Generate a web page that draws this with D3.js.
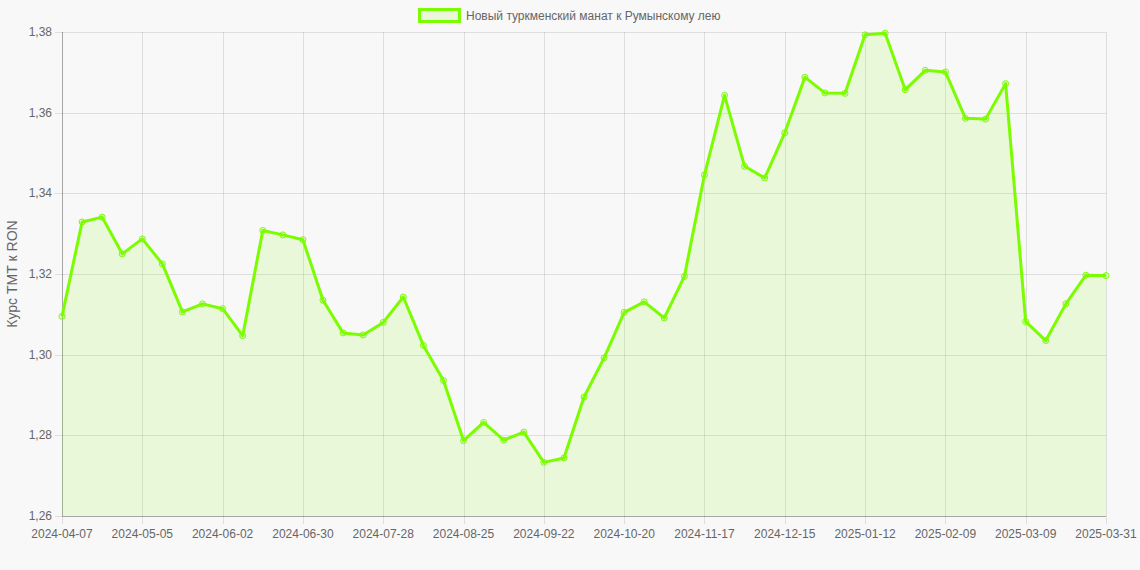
<!DOCTYPE html>
<html>
<head>
<meta charset="utf-8">
<script src="https://cdn.jsdelivr.net/npm/d3@7"></script>
<style>
    body { margin: 0; background: #f8f8f8; }
    svg { display: block; font-family: "Liberation Sans", Arial, sans-serif; }
    .grid line { stroke: rgba(0, 0, 0, 0.1); stroke-width: 1; }
    .tick-label { fill: #666; font-size: 12px; }
    .axis-title { fill: #666; font-size: 14px; }
</style>
</head>
<body>
<svg class="chart" width="1140" height="570"></svg>
<script>
var dates = [
    "2024-04-07", "2024-04-14", "2024-04-21", "2024-04-28", "2024-05-05", "2024-05-12", "2024-05-19",
    "2024-05-26", "2024-06-02", "2024-06-09", "2024-06-16", "2024-06-23", "2024-06-30", "2024-07-07",
    "2024-07-14", "2024-07-21", "2024-07-28", "2024-08-04", "2024-08-11", "2024-08-18", "2024-08-25",
    "2024-09-01", "2024-09-08", "2024-09-15", "2024-09-22", "2024-09-29", "2024-10-06", "2024-10-13",
    "2024-10-20", "2024-10-27", "2024-11-03", "2024-11-10", "2024-11-17", "2024-11-24", "2024-12-01",
    "2024-12-08", "2024-12-15", "2024-12-22", "2024-12-29", "2025-01-05", "2025-01-12", "2025-01-19",
    "2025-01-26", "2025-02-02", "2025-02-09", "2025-02-16", "2025-02-23", "2025-03-02", "2025-03-09",
    "2025-03-16", "2025-03-23", "2025-03-30", "2025-03-31"
];

var rates = [
    1.3095, 1.3329, 1.3341, 1.3250, 1.3287, 1.3225, 1.3106,
    1.3126, 1.3114, 1.3047, 1.3308, 1.3297, 1.3285, 1.3135,
    1.3054, 1.3049, 1.3080, 1.3143, 1.3023, 1.2936, 1.2787,
    1.2832, 1.2788, 1.2808, 1.2733, 1.2744, 1.2895, 1.2992,
    1.3105, 1.3131, 1.3091, 1.3194, 1.3446, 1.3643, 1.3467,
    1.3438, 1.3550, 1.3688, 1.3649, 1.3648, 1.3793, 1.3797,
    1.3657, 1.3705, 1.3701, 1.3586, 1.3584, 1.3672, 1.3082,
    1.3035, 1.3126, 1.3197, 1.3196
];

var yTicks = [1.26, 1.28, 1.30, 1.32, 1.34, 1.36, 1.38];
var xTickLabels = [
    "2024-04-07", "2024-05-05", "2024-06-02", "2024-06-30", "2024-07-28", "2024-08-25", "2024-09-22",
    "2024-10-20", "2024-11-17", "2024-12-15", "2025-01-12", "2025-02-09", "2025-03-09", "2025-03-31"
];

var seriesName = "Новый туркменский манат к Румынскому лею";
var yTitle = "Курс ТМТ к RON";

var lineColor = "#7cfc00";
var fillColor = "rgba(124, 252, 0, 0.12)";

var plot = { left: 62, right: 1106, top: 32, bottom: 516 };

var svg = d3.select("svg.chart");

var x = d3.scalePoint()
    .domain(dates)
    .range([plot.left, plot.right]);

var y = d3.scaleLinear()
    .domain([1.26, 1.38])
    .range([plot.bottom, plot.top]);

var fmt = function (v) { return d3.format(".2f")(v).replace(".", ","); };

// grid
var grid = svg.append("g").classed("grid", true);
grid.selectAll("line.h")
    .data(yTicks)
    .enter()
    .append("line")
    .attr("x1", plot.left - 7)
    .attr("x2", plot.right)
    .attr("y1", function (d) { return Math.round(y(d)) + 0.5; })
    .attr("y2", function (d) { return Math.round(y(d)) + 0.5; });

grid.selectAll("line.v")
    .data(xTickLabels)
    .enter()
    .append("line")
    .attr("x1", function (d) { return Math.round(x(d)) + 0.5; })
    .attr("x2", function (d) { return Math.round(x(d)) + 0.5; })
    .attr("y1", plot.top)
    .attr("y2", plot.bottom + 8);

// axis lines
svg.append("line")
    .attr("x1", plot.left + 0.5).attr("x2", plot.left + 0.5)
    .attr("y1", plot.top).attr("y2", plot.bottom)
    .attr("stroke", "rgba(0,0,0,0.25)");
svg.append("line")
    .attr("x1", plot.left).attr("x2", plot.right)
    .attr("y1", plot.bottom + 0.5).attr("y2", plot.bottom + 0.5)
    .attr("stroke", "rgba(0,0,0,0.25)");

// tick labels
svg.selectAll("text.ylab")
    .data(yTicks)
    .enter()
    .append("text")
    .classed("tick-label", true)
    .attr("x", plot.left - 10)
    .attr("y", function (d) { return y(d) + 4; })
    .attr("text-anchor", "end")
    .text(fmt);

svg.selectAll("text.xlab")
    .data(xTickLabels)
    .enter()
    .append("text")
    .classed("tick-label", true)
    .attr("x", function (d) { return x(d); })
    .attr("y", plot.bottom + 22)
    .attr("text-anchor", "middle")
    .text(function (d) { return d; });

svg.append("text")
    .classed("axis-title", true)
    .attr("transform", "translate(17," + ((plot.top + plot.bottom) / 2) + ") rotate(-90)")
    .attr("text-anchor", "middle")
    .text(yTitle);

// area + line
var area = d3.area()
    .x(function (d, i) { return x(dates[i]); })
    .y0(plot.bottom)
    .y1(function (d) { return y(d); });

var line = d3.line()
    .x(function (d, i) { return x(dates[i]); })
    .y(function (d) { return y(d); });

svg.append("path")
    .attr("d", area(rates))
    .attr("fill", fillColor);

svg.append("path")
    .attr("d", line(rates))
    .attr("fill", "none")
    .attr("stroke", lineColor)
    .attr("stroke-width", 3)
    .attr("stroke-linejoin", "round");

svg.selectAll("circle.pt")
    .data(rates)
    .enter()
    .append("circle")
    .attr("cx", function (d, i) { return x(dates[i]); })
    .attr("cy", function (d) { return y(d); })
    .attr("r", 3)
    .attr("fill", fillColor)
    .attr("stroke", lineColor)
    .attr("stroke-width", 1);

// legend
var legend = svg.append("g");
legend.append("rect")
    .attr("x", 419.5)
    .attr("y", 9.5)
    .attr("width", 40)
    .attr("height", 12)
    .attr("fill", fillColor)
    .attr("stroke", lineColor)
    .attr("stroke-width", 3);
legend.append("text")
    .classed("tick-label", true)
    .attr("x", 466)
    .attr("y", 19.5)
    .text(seriesName);
</script>
</body>
</html>
